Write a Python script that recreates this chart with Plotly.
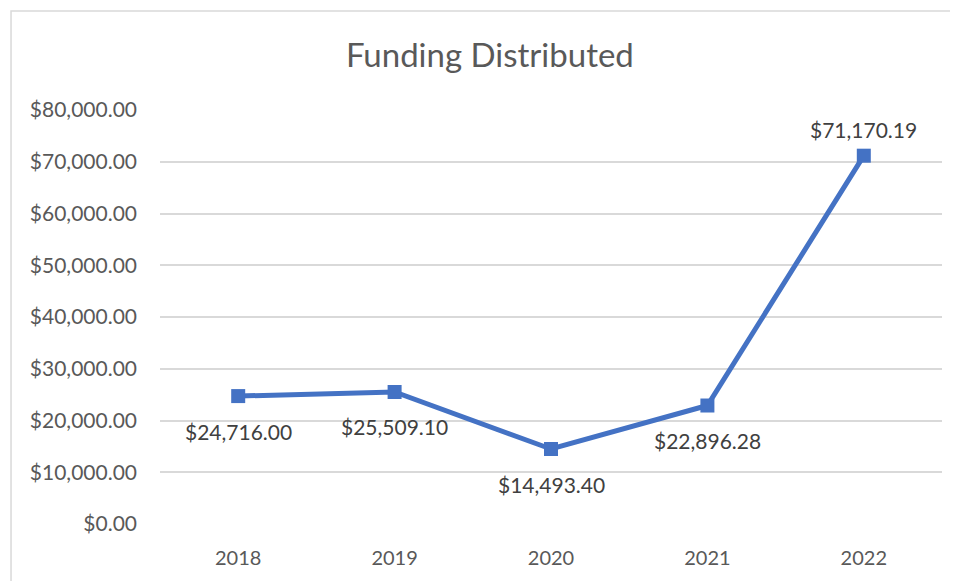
import plotly.graph_objects as go

years = ["2018", "2019", "2020", "2021", "2022"]
funding = [24716.00, 25509.10, 14493.40, 22896.28, 71170.19]
label_text = ["$24,716.00", "$25,509.10", "$14,493.40", "$22,896.28", "$71,170.19"]
label_below = [True, True, True, True, False]

tick_vals = [0, 10000, 20000, 30000, 40000, 50000, 60000, 70000, 80000]
tick_text = ["$0.00", "$10,000.00", "$20,000.00", "$30,000.00", "$40,000.00",
             "$50,000.00", "$60,000.00", "$70,000.00", "$80,000.00"]

FONT = "Lato, 'Open Sans', sans-serif"
GREY = "#595959"
BLUE = "#4472C4"

fig = go.Figure()
fig.add_trace(go.Scatter(
    x=years, y=funding, mode="lines+markers",
    line=dict(color=BLUE, width=5),
    marker=dict(symbol="square", size=14, color=BLUE),
    hoverinfo="skip", showlegend=False,
))

# category axis: annotations positioned by category serial number
for i, (v, t, below) in enumerate(zip(funding, label_text, label_below)):
    fig.add_annotation(x=i, y=v, xref="x", yref="y", text=t, showarrow=False,
                       yshift=-35 if below else 26,
                       font=dict(family=FONT, size=21, color="#404040"))

fig.add_shape(type="rect", xref="paper", yref="paper",
              x0=-0.1905, x1=1.3, y0=-0.4, y1=1.239,
              line=dict(color="#D9D9D9", width=1.5), layer="below")

fig.update_layout(
    width=958, height=581,
    margin=dict(l=152, r=24, t=102, b=65),
    paper_bgcolor="white", plot_bgcolor="white",
    title=dict(text="Funding Distributed", x=0.503, xref="container",
               xanchor="center", y=0.919, yanchor="middle",
               font=dict(family=FONT, size=33, color=GREY)),
    xaxis=dict(type="category", range=[-0.5, 4.5], showgrid=False,
               showline=False, zeroline=False, ticks="",
               tickfont=dict(family=FONT, size=20, color=GREY),
               ticklabelstandoff=20),
    yaxis=dict(range=[0, 80000], tickvals=tick_vals, ticktext=tick_text,
               showgrid=True, gridcolor="#D9D9D9", gridwidth=1.5,
               zeroline=False, showline=False, ticks="",
               tickfont=dict(family=FONT, size=21, color=GREY),
               ticklabelstandoff=22),
)

fig.write_html("out.html")
